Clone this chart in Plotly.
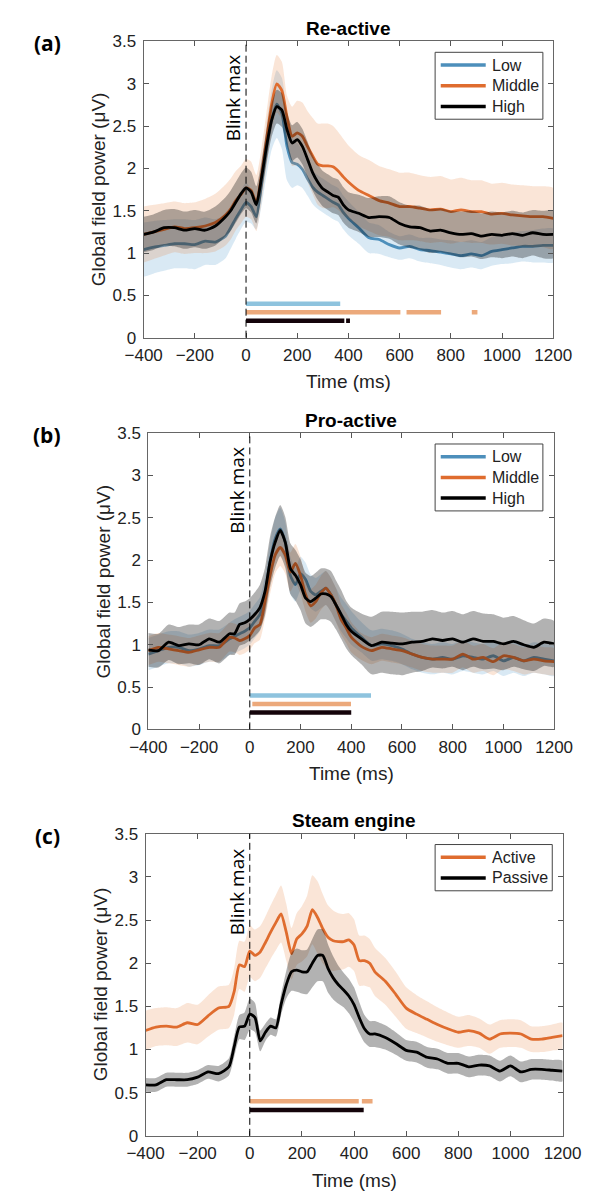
import plotly.graph_objects as go

W, H = 605, 1198

# ---------------- DATA ----------------
t_ab = [-400, -360, -320, -280, -240, -200, -160, -120, -80,
        -60, -40, -20, 0, 20, 40, 60, 80, 100, 120, 140, 160, 180, 200, 220,
        240, 260, 280, 300, 320, 340, 360, 380, 400,
        440, 480, 520, 560, 600, 640, 680, 720, 760, 800, 840, 880, 920, 960,
        1000, 1040, 1080, 1120, 1160, 1200]

t_c = [-400, -360, -320, -280, -240, -200, -160, -120, -80,
       -60, -40, -20, 0, 20, 40, 60, 80, 100, 120, 140, 160, 180, 200, 220,
       240, 260, 280, 300, 320, 340, 360, 380, 400, 420, 440, 460, 480,
       520, 560, 600, 640, 680, 720, 760, 800, 840, 880, 920, 960,
       1000, 1040, 1080, 1120, 1160, 1200]

# Panel (a) Re-active
a_low = [1.04, 1.07, 1.09, 1.11, 1.11, 1.10, 1.14, 1.13, 1.20,
         1.30, 1.41, 1.51, 1.60, 1.55, 1.43, 1.80, 2.22, 2.57, 2.76, 2.65, 2.26, 2.07, 2.05, 1.99,
         1.88, 1.78, 1.72, 1.68, 1.64, 1.60, 1.57, 1.48, 1.41,
         1.30, 1.18, 1.16, 1.10, 1.06, 1.08, 1.04, 1.03, 1.01, 0.99, 0.97, 0.99, 0.97, 1.02,
         1.04, 1.06, 1.08, 1.08, 1.09, 1.09]
a_mid = [1.22, 1.25, 1.28, 1.31, 1.29, 1.30, 1.32, 1.36, 1.45,
         1.52, 1.62, 1.69, 1.77, 1.74, 1.59, 1.91, 2.34, 2.76, 3.00, 2.92, 2.61, 2.38, 2.42, 2.38,
         2.26, 2.15, 2.05, 2.03, 2.03, 2.02, 1.97, 1.90, 1.84,
         1.74, 1.68, 1.62, 1.59, 1.55, 1.55, 1.53, 1.51, 1.52, 1.49, 1.51, 1.49, 1.49, 1.46,
         1.47, 1.45, 1.44, 1.43, 1.43, 1.41]
a_high = [1.22, 1.25, 1.30, 1.30, 1.27, 1.29, 1.27, 1.32, 1.43,
          1.50, 1.60, 1.70, 1.77, 1.72, 1.57, 1.88, 2.26, 2.57, 2.73, 2.69, 2.46, 2.30, 2.34, 2.26,
          2.11, 1.95, 1.84, 1.76, 1.72, 1.68, 1.66, 1.57, 1.51,
          1.47, 1.42, 1.43, 1.42, 1.35, 1.31, 1.30, 1.26, 1.27, 1.24, 1.22, 1.23, 1.20, 1.22,
          1.21, 1.23, 1.21, 1.24, 1.22, 1.22]
a_low_err = [0.32, 0.31, 0.30, 0.29, 0.29, 0.29, 0.28, 0.27, 0.26,
             0.25, 0.24, 0.23, 0.23, 0.20, 0.15, 0.25, 0.30, 0.35, 0.40, 0.42, 0.40, 0.30, 0.25, 0.22,
             0.20, 0.20, 0.20, 0.20, 0.20, 0.20, 0.20, 0.20, 0.20,
             0.19, 0.18, 0.17, 0.15, 0.14, 0.14, 0.14, 0.15, 0.15, 0.16, 0.16, 0.16, 0.16, 0.17,
             0.17, 0.18, 0.18, 0.19, 0.20, 0.20]
a_mid_err = [0.33, 0.32, 0.31, 0.30, 0.30, 0.30, 0.32, 0.34, 0.36,
             0.36, 0.35, 0.34, 0.34, 0.34, 0.33, 0.32, 0.32, 0.33, 0.34, 0.34, 0.25, 0.35, 0.38, 0.40,
             0.42, 0.45, 0.48, 0.50, 0.50, 0.48, 0.46, 0.45, 0.43,
             0.42, 0.42, 0.41, 0.40, 0.40, 0.40, 0.39, 0.39, 0.39, 0.38, 0.38, 0.37, 0.37, 0.36,
             0.36, 0.36, 0.36, 0.36, 0.36, 0.36]
a_high_err = [0.21, 0.21, 0.21, 0.22, 0.22, 0.22, 0.22, 0.23, 0.23,
              0.24, 0.24, 0.24, 0.24, 0.24, 0.22, 0.20, 0.20, 0.20, 0.20, 0.20, 0.20, 0.21, 0.21, 0.21,
              0.21, 0.21, 0.21, 0.21, 0.21, 0.21, 0.21, 0.21, 0.21,
              0.22, 0.23, 0.24, 0.25, 0.25, 0.25, 0.26, 0.26, 0.26, 0.26, 0.27, 0.27, 0.27, 0.27,
              0.27, 0.27, 0.27, 0.27, 0.28, 0.28]

# Panel (b) Pro-active
b_low = [0.89, 0.93, 0.97, 0.97, 0.93, 0.95, 0.99, 0.99, 1.07,
         1.10, 1.13, 1.16, 1.20, 1.28, 1.36, 1.59, 1.98, 2.25, 2.37, 2.21, 1.82, 1.71, 1.84, 1.77,
         1.63, 1.59, 1.63, 1.67, 1.59, 1.47, 1.36, 1.28, 1.20,
         1.09, 0.99, 1.01, 0.99, 0.95, 0.89, 0.85, 0.83, 0.85, 0.83, 0.87, 0.85, 0.83, 0.87,
         0.81, 0.85, 0.81, 0.85, 0.83, 0.81]
b_mid = [0.93, 0.97, 0.95, 0.93, 0.91, 0.94, 0.97, 0.97, 1.09,
         1.08, 1.05, 1.07, 1.11, 1.20, 1.24, 1.51, 1.82, 2.06, 2.15, 2.06, 1.86, 1.96, 1.82, 1.59,
         1.46, 1.51, 1.61, 1.67, 1.59, 1.47, 1.30, 1.20, 1.09,
         0.98, 0.93, 0.97, 0.95, 0.93, 0.89, 0.85, 0.83, 0.83, 0.83, 0.89, 0.83, 0.85, 0.80,
         0.87, 0.85, 0.81, 0.83, 0.81, 0.80]
b_high = [0.94, 0.93, 1.03, 0.99, 1.01, 1.00, 1.07, 1.03, 1.13,
          1.13, 1.24, 1.26, 1.30, 1.36, 1.44, 1.63, 1.98, 2.21, 2.35, 2.21, 1.90, 1.82, 1.71, 1.55,
          1.51, 1.55, 1.60, 1.60, 1.57, 1.47, 1.36, 1.24, 1.16,
          1.07, 0.99, 1.03, 1.02, 1.01, 1.03, 1.04, 1.07, 1.05, 1.07, 1.03, 1.07, 1.04, 1.04,
          1.01, 1.04, 1.00, 0.97, 1.03, 1.01]
b_low_err = [0.19] * 9 + [0.20, 0.20, 0.20, 0.20, 0.20, 0.20, 0.22, 0.24, 0.25, 0.25, 0.24, 0.22,
                          0.20, 0.20, 0.20, 0.20, 0.20, 0.20, 0.20, 0.20, 0.20, 0.20, 0.20, 0.20] + [0.18] * 20
b_mid_err = [0.17] * 9 + [0.17, 0.17, 0.17, 0.17, 0.18, 0.18, 0.20, 0.22, 0.22, 0.22, 0.22, 0.23,
                          0.23, 0.22, 0.20, 0.20, 0.20, 0.20, 0.20, 0.20, 0.20, 0.18, 0.18, 0.18] + [0.16] * 20
b_high_err = [0.20, 0.20, 0.21, 0.22, 0.23, 0.24, 0.24, 0.25, 0.25,
              0.25, 0.25, 0.25, 0.25, 0.26, 0.27, 0.28, 0.30, 0.30, 0.30, 0.30, 0.30, 0.30, 0.30, 0.30,
              0.30, 0.30, 0.30, 0.30, 0.30, 0.29, 0.29, 0.28, 0.28,
              0.30, 0.34, 0.36, 0.37, 0.37, 0.36, 0.35, 0.34, 0.33, 0.33, 0.33, 0.33, 0.33, 0.32,
              0.31, 0.30, 0.29, 0.28, 0.28, 0.27]

# Panel (c) Steam engine
c_active = [1.22, 1.26, 1.27, 1.26, 1.31, 1.29, 1.39, 1.48, 1.50,
            1.67, 1.98, 1.96, 2.14, 2.09, 2.13, 2.24, 2.36, 2.47, 2.57, 2.36, 2.11, 2.28, 2.34, 2.43,
            2.62, 2.53, 2.40, 2.30, 2.26, 2.25, 2.25, 2.27, 2.21, 2.03, 2.03, 2.00, 1.90,
            1.79, 1.64, 1.48, 1.41, 1.35, 1.29, 1.24, 1.20, 1.22, 1.19, 1.12, 1.18,
            1.19, 1.18, 1.12, 1.12, 1.14, 1.16]
c_passive = [0.59, 0.59, 0.65, 0.65, 0.65, 0.68, 0.74, 0.72, 0.80,
             1.03, 1.26, 1.27, 1.41, 1.37, 1.10, 1.20, 1.27, 1.25, 1.52, 1.75, 1.90, 1.92, 1.90, 1.90,
             2.00, 2.09, 2.09, 1.94, 1.83, 1.75, 1.69, 1.62, 1.52, 1.37, 1.24, 1.18, 1.18,
             1.14, 1.07, 0.99, 0.97, 0.91, 0.89, 0.84, 0.84, 0.80, 0.82, 0.81, 0.75,
             0.81, 0.74, 0.77, 0.77, 0.76, 0.75]
c_active_err = [0.23, 0.22, 0.22, 0.22, 0.23, 0.23, 0.24, 0.25, 0.25,
                0.27, 0.28, 0.29, 0.30, 0.30, 0.30, 0.30, 0.31, 0.32, 0.33, 0.33, 0.30, 0.30, 0.32, 0.35,
                0.40, 0.42, 0.40, 0.37, 0.35, 0.33, 0.32, 0.31, 0.30, 0.29, 0.29, 0.28, 0.28,
                0.27, 0.26, 0.24, 0.22, 0.21, 0.20, 0.19, 0.18, 0.18, 0.17, 0.17, 0.16,
                0.16, 0.16, 0.15, 0.15, 0.15, 0.15]
c_passive_err = [0.08, 0.08, 0.08, 0.08, 0.08, 0.08, 0.08, 0.09, 0.10,
                 0.12, 0.14, 0.16, 0.18, 0.17, 0.12, 0.10, 0.10, 0.10, 0.12, 0.16, 0.22, 0.25, 0.25, 0.26,
                 0.28, 0.30, 0.30, 0.28, 0.25, 0.22, 0.20, 0.20, 0.20, 0.18, 0.16, 0.15, 0.15,
                 0.14, 0.13, 0.12, 0.12, 0.12, 0.12, 0.12, 0.12, 0.12, 0.12, 0.12, 0.12,
                 0.12, 0.12, 0.12, 0.12, 0.12, 0.12]

# significance segments (ms) and their y level
a_sig_low = [(0, 368)]
a_sig_mid = [(0, 603), (627, 762), (882, 904)]
a_sig_high = [(0, 384), (391, 406)]
b_sig_low = [(0, 478)]
b_sig_mid = [(10, 399)]
b_sig_high = [(0, 400)]
c_sig_active = [(0, 418), (430, 471)]
c_sig_passive = [(0, 437)]

panel_titles = ["Re-active", "Pro-active", "Steam engine"]
panel_letters = ["(a)", "(b)", "(c)"]
names_abc = [["Low", "Middle", "High"], ["Low", "Middle", "High"], ["Active", "Passive"]]
x_ticks = [-400, -200, 0, 200, 400, 600, 800, 1000, 1200]
y_ticks = [0, 0.5, 1, 1.5, 2, 2.5, 3, 3.5]
y_ticktext = ["0", "0.5", "1", "1.5", "2", "2.5", "3", "3.5"]

for arr in [a_low, a_mid, a_high, a_low_err, a_mid_err, a_high_err,
            b_low, b_mid, b_high, b_low_err, b_mid_err, b_high_err]:
    assert len(arr) == len(t_ab), len(arr)
for arr in [c_active, c_passive, c_active_err, c_passive_err]:
    assert len(arr) == len(t_c), len(arr)

# ---------------- STYLE ----------------
BLUE = "#4d8fbb"
ORANGE = "#df6c2e"
BLACK = "#000000"
BAND = {BLUE: "rgba(80,155,205,0.22)", ORANGE: "rgba(232,125,55,0.2)", BLACK: "rgba(0,0,0,0.3)"}
SIG = {BLUE: "#8ec3de", ORANGE: "#eca97b", BLACK: "#14040a"}
TICKFONT = dict(family="Liberation Sans, Arial, sans-serif", size=17, color="#222")
LABFONT = dict(family="Liberation Sans, Arial, sans-serif", size=19, color="#222")

# pixel layout of the three axes boxes: left, right, top, bottom
boxes = [(133, 570, 33, 334), (138, 571, 431, 732), (135, 580, 838, 1145)]


def px(x):
    return x / W


def py(y):
    return 1 - y / H


fig = go.Figure()

panels = [
    (t_ab, [(a_low, a_low_err, BLUE), (a_mid, a_mid_err, ORANGE), (a_high, a_high_err, BLACK)],
     [(a_sig_low, BLUE, 0.4), (a_sig_mid, ORANGE, 0.3), (a_sig_high, BLACK, 0.2)]),
    (t_ab, [(b_low, b_low_err, BLUE), (b_mid, b_mid_err, ORANGE), (b_high, b_high_err, BLACK)],
     [(b_sig_low, BLUE, 0.4), (b_sig_mid, ORANGE, 0.3), (b_sig_high, BLACK, 0.2)]),
    (t_c, [(c_active, c_active_err, ORANGE), (c_passive, c_passive_err, BLACK)],
     [(c_sig_active, ORANGE, 0.4), (c_sig_passive, BLACK, 0.3)]),
]

shapes = []
annotations = []

for i, (t, series, sigs) in enumerate(panels):
    n = i + 1
    xa = "x" if n == 1 else f"x{n}"
    ya = "y" if n == 1 else f"y{n}"
    for (m, e, col) in series:
        up = [a + b for a, b in zip(m, e)]
        lo = [a - b for a, b in zip(m, e)]
        fig.add_trace(go.Scatter(x=list(t) + list(t)[::-1], y=up + lo[::-1], fill="toself",
                                 fillcolor=BAND[col], line=dict(width=0, shape="spline", smoothing=0.6),
                                 mode="lines", hoverinfo="skip", showlegend=False, xaxis=xa, yaxis=ya))
        fig.add_trace(go.Scatter(x=t, y=m, mode="lines",
                                 line=dict(color=col, width=2.8, shape="spline", smoothing=0.6),
                                 showlegend=False, xaxis=xa, yaxis=ya))
    for segs, col, lev in sigs:
        for s0, s1 in segs:
            fig.add_trace(go.Scatter(x=[s0, s1], y=[lev, lev], mode="lines",
                                     line=dict(color=SIG[col], width=4.5),
                                     showlegend=False, xaxis=xa, yaxis=ya))
    L, R, T, B = boxes[i]
    ax = dict(domain=[px(L), px(R)], range=[-400, 1200], tickvals=x_ticks, ticks="inside",
              ticklen=5, tickcolor="#555", mirror="ticks", showline=True, linecolor="#666",
              linewidth=1, showgrid=False, zeroline=False, tickfont=TICKFONT, anchor=ya,
              ticklabelstandoff=2)
    ay = dict(domain=[py(B), py(T)], range=[0, 3.5], tickvals=y_ticks, ticktext=y_ticktext,
              ticks="inside", ticklen=5, tickcolor="#555", mirror="ticks", showline=True,
              linecolor="#666", linewidth=1, showgrid=False, zeroline=False, tickfont=TICKFONT,
              anchor=xa, ticklabelstandoff=3)
    fig.layout["xaxis" if n == 1 else f"xaxis{n}"] = ax
    fig.layout["yaxis" if n == 1 else f"yaxis{n}"] = ay

    # dashed vertical line at blink max
    shapes.append(dict(type="line", xref=xa, yref=f"{ya} domain", x0=0, x1=0, y0=0, y1=1,
                       line=dict(color="black", width=1, dash="7px,4px")))
    annotations.append(dict(text="Blink max", x=0, y=2.83, xref=xa, yref=ya, textangle=-90,
                            xanchor="center", yanchor="middle", xshift=-13, showarrow=False,
                            font=dict(family="Open Sans", size=19, color="black")))
    # titles
    annotations.append(dict(text=f"<b>{panel_titles[i]}</b>", x=px((L + R) / 2), y=py(T - 13),
                            xref="paper", yref="paper", xanchor="center", yanchor="middle",
                            showarrow=False,
                            font=dict(family="Liberation Sans, Arial, sans-serif", size=19, color="black")))
    annotations.append(dict(text="Time (ms)", x=px((L + R) / 2), y=py(B + 45), xref="paper",
                            yref="paper", xanchor="center", yanchor="middle", showarrow=False,
                            font=LABFONT))
    annotations.append(dict(text="Global field power (μV)", x=px(L - 48), y=py((T + B) / 2),
                            xref="paper", yref="paper", xanchor="center", yanchor="middle",
                            textangle=-90, showarrow=False, font=LABFONT))
    annotations.append(dict(text=f"<b>{panel_letters[i]}</b>", x=px(30), y=py(T + 2),
                            xref="paper", yref="paper", xanchor="center", yanchor="middle",
                            showarrow=False,
                            font=dict(family="Open Sans", size=21, color="black")))

    # legend box
    names = names_abc[i]
    cols = [c for (_, _, c) in series]
    lx0, lx1 = 444, (559 if i < 2 else 569)
    ly0 = T + 11
    row = 21
    ly1 = ly0 + 5 + row * len(names)
    shapes.append(dict(type="rect", xref="paper", yref="paper", x0=px(lx0), x1=px(lx1),
                       y0=py(ly1), y1=py(ly0), line=dict(color="#444", width=1),
                       fillcolor="white", layer="above"))
    for k, (nm, col) in enumerate(zip(names, cols)):
        yy = ly0 + 13 + row * k
        shapes.append(dict(type="line", xref="paper", yref="paper", x0=px(450), x1=px(498),
                           y0=py(yy), y1=py(yy), line=dict(color=col, width=3.5), layer="above"))
        annotations.append(dict(text=nm, x=px(503), y=py(yy), xref="paper", yref="paper",
                                xanchor="left", yanchor="middle", showarrow=False,
                                font=dict(family="Liberation Sans, Arial, sans-serif", size=16, color="#222")))

fig.update_layout(width=W, height=H, margin=dict(l=0, r=0, t=0, b=0),
                  plot_bgcolor="white", paper_bgcolor="white", showlegend=False,
                  shapes=shapes, annotations=annotations)

fig.write_html("out.html")
